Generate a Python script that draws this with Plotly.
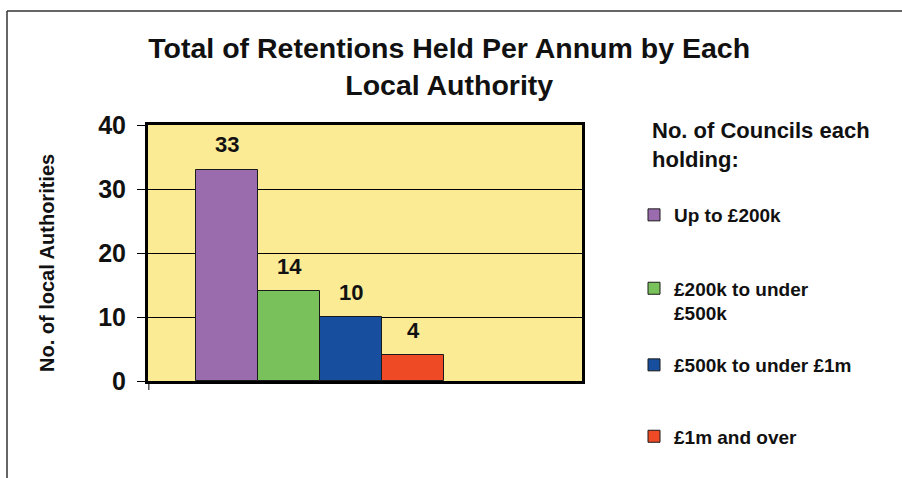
import plotly.graph_objects as go

# Councils grouped by total retentions held per annum
bands = ["Up to £200k", "£200k to under<br>£500k", "£500k to under £1m", "£1m and over"]
councils = [33, 14, 10, 4]
colors = ["#9A6CAE", "#79C15A", "#174E9E", "#EE4A25"]
category = ["Councils"]

FONT = "Arial, Liberation Sans, sans-serif"

fig = go.Figure()
n = len(bands)
for i, (band, val, col) in enumerate(zip(bands, councils, colors)):
    # pad single-line names so every legend entry has the same height
    name = band if "<br>" in band else band + "<br> "
    fig.add_trace(go.Bar(
        x=category, y=[val], name=name, legendgroup=str(i),
        legend="legend" if i < 2 else "legend2",
        marker=dict(color=col, line=dict(color="#1a1a1a", width=1)),
        hoverinfo="name+y",
    ))
    # value label above each bar (bar centre within the group)
    fig.add_annotation(
        x=-0.5 + (i + 0.5) / n, y=val, xref="x", yref="y",
        text=f"<b>{val}</b>", showarrow=False, yshift=25,
        font=dict(family=FONT, size=22, color="#111"),
    )

legend_style = dict(
    x=634 / 902, xanchor="left", xref="container",
    yanchor="top", yref="container",
    font=dict(family=FONT, size=19, color="#111", weight="bold"),
    traceorder="grouped", valign="top",
    bgcolor="rgba(0,0,0,0)",
)

fig.update_layout(
    width=902, height=478,
    margin=dict(l=148, r=320, t=125, b=97),
    paper_bgcolor="white", plot_bgcolor="#FBEB95",
    barmode="group", bargap=0, bargroupgap=0,
    font=dict(family=FONT, color="#111"),
    title=dict(
        text="<b>Total of Retentions Held Per Annum by Each<br>Local Authority</b>",
        x=0.498, xanchor="center", xref="container",
        y=1 - 58 / 478, yanchor="top", yref="container",
        font=dict(family=FONT, size=28.5, color="#111"),
    ),
    showlegend=True,
    legend=dict(legend_style, y=1 - 196 / 478, tracegroupgap=21),
    legend2=dict(legend_style, y=1 - 346 / 478, tracegroupgap=19),
)

fig.update_xaxes(
    range=[-0.6935, 1.056], showticklabels=False, ticks="",
    showgrid=False, showline=True, linewidth=3, linecolor="black", mirror=True,
    zeroline=False,
)
fig.update_yaxes(
    range=[0, 40], tickvals=[0, 10, 20, 30, 40],
    tickfont=dict(family=FONT, size=25, color="#111", weight="bold"),
    ticks="outside", ticklen=8, tickwidth=1, tickcolor="black",
    ticklabelstandoff=6,
    showgrid=True, gridcolor="black", gridwidth=1,
    showline=True, linewidth=3, linecolor="black", mirror=True,
    zeroline=False,
)

# y-axis caption
fig.add_annotation(
    x=(47 - 148) / 434, y=(381 - 263) / 256, xref="paper", yref="paper",
    xanchor="center", yanchor="middle",
    text="<b>No. of local Authorities</b>", textangle=-90, showarrow=False,
    font=dict(family=FONT, size=20, color="#111"),
)

# legend heading
fig.add_annotation(
    x=(650 - 148) / 434, y=(381 - 116) / 256, xref="paper", yref="paper",
    xanchor="left", yanchor="top", align="left",
    text="<b>No. of Councils each<br>holding:</b>", showarrow=False,
    font=dict(family=FONT, size=22, color="#111"),
)

# category tick below the axis at the left edge
fig.add_shape(type="line", xref="paper", yref="paper",
              x0=0.002, x1=0.002, y0=0, y1=-9 / 256,
              line=dict(color="black", width=1))

# outer frame (top and left edges)
fig.add_shape(type="line", xref="paper", yref="paper",
              x0=(7 - 148) / 434, x1=(910 - 148) / 434,
              y0=(381 - 11) / 256, y1=(381 - 11) / 256,
              line=dict(color="#333", width=1.5))
fig.add_shape(type="line", xref="paper", yref="paper",
              x0=(7 - 148) / 434, x1=(7 - 148) / 434,
              y0=(381 - 11) / 256, y1=(381 - 490) / 256,
              line=dict(color="#333", width=1.5))

fig.write_html("out.html")
